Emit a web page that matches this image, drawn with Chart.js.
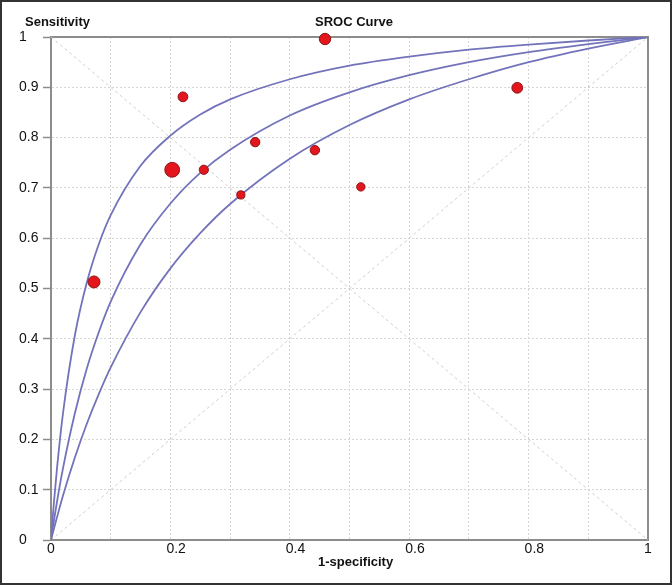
<!DOCTYPE html>
<html lang="en">
<head>
  <meta charset="UTF-8">
  <title>SROC Curve</title>
  <script src="https://cdn.jsdelivr.net/npm/chart.js"></script>
  <style>
    body {
      margin: 0;
      background-color: #fff;
    }
    .chart-container {
      width: 672px;
      height: 585px;
      position: relative;
    }
  </style>
</head>
<body>

  <div class="chart-container">
    <canvas id="srocChart"></canvas>
  </div>

  <script>
    // studies: 1-specificity, sensitivity, bubble radius (study weight)
    const studyFpr  = [0.459, 0.221, 0.781, 0.203, 0.256, 0.342, 0.442, 0.318, 0.519, 0.072];
    const studySens = [0.996, 0.881, 0.899, 0.736, 0.736, 0.791, 0.775, 0.686, 0.702, 0.513];
    const studySize = [5.7, 4.9, 5.4, 7.4, 4.6, 4.7, 4.7, 4.1, 4.2, 6.0];

    // SROC curves
    const curveFpr    = [0, 0.003, 0.005, 0.01, 0.02, 0.04, 0.06, 0.08, 0.1, 0.15, 0.2, 0.25, 0.3, 0.4, 0.5, 0.6, 0.7, 0.8, 0.9, 1];
    const outerSens   = [0, 0.047, 0.076, 0.142, 0.251, 0.407, 0.512, 0.588, 0.646, 0.744, 0.804, 0.846, 0.876, 0.916, 0.943, 0.961, 0.975, 0.985, 0.993, 1];
    const middleSens  = [0, 0.024, 0.039, 0.076, 0.142, 0.252, 0.341, 0.413, 0.474, 0.588, 0.669, 0.730, 0.776, 0.844, 0.890, 0.924, 0.950, 0.970, 0.986, 1];
    const innerSens   = [0, 0.014, 0.023, 0.045, 0.088, 0.164, 0.231, 0.290, 0.343, 0.453, 0.540, 0.610, 0.668, 0.758, 0.825, 0.876, 0.916, 0.950, 0.977, 1];

    // diagonals
    const diagX     = [0, 1];
    const diagUp    = [0, 1];
    const diagDown  = [1, 0];

    const xTickLabels = ['0', '0.2', '0.4', '0.6', '0.8', '1'];
    const yTickLabels = ['0', '0.1', '0.2', '0.3', '0.4', '0.5', '0.6', '0.7', '0.8', '0.9', '1'];

    const FONT = "'Liberation Sans', Arial, sans-serif";
    const curveColor = '#7373bb';

    const toPoints = (xs, ys) => xs.map((x, i) => ({ x: x, y: ys[i] }));

    const curveDataset = (ys) => ({
      type: 'scatter',
      data: toPoints(curveFpr, ys),
      showLine: true,
      borderColor: curveColor,
      borderWidth: 1.8,
      pointRadius: 0,
      cubicInterpolationMode: 'monotone',
      fill: false
    });

    const diagDataset = (ys) => ({
      type: 'scatter',
      data: toPoints(diagX, ys),
      showLine: true,
      borderColor: '#cfcfcf',
      borderWidth: 1,
      borderDash: [3, 3],
      pointRadius: 0,
      fill: false
    });

    // frame (top/right), outer picture border and the free texts
    const framePlugin = {
      id: 'frame',
      beforeDatasetsDraw(chart) {
        const { ctx, chartArea: a } = chart;
        ctx.save();
        ctx.strokeStyle = '#8c8c8c';
        ctx.lineWidth = 2;
        ctx.beginPath();
        ctx.moveTo(a.left, a.top);
        ctx.lineTo(a.right, a.top);
        ctx.lineTo(a.right, a.bottom);
        ctx.stroke();
        ctx.restore();
      },
      afterDraw(chart) {
        const ctx = chart.ctx;
        ctx.save();
        ctx.fillStyle = '#111';
        ctx.font = 'bold 13px ' + FONT;
        ctx.textAlign = 'left';
        ctx.textBaseline = 'alphabetic';
        ctx.fillText('Sensitivity', 25, 26);
        ctx.fillText('SROC Curve', 315, 26);
        ctx.fillText('1-specificity', 318, 566);
        ctx.strokeStyle = '#333';
        ctx.lineWidth = 2;
        ctx.strokeRect(1, 1, chart.width - 2, chart.height - 2);
        ctx.restore();
      }
    };

    const ctxSroc = document.getElementById('srocChart').getContext('2d');
    const srocChart = new Chart(ctxSroc, {
      type: 'scatter',
      data: {
        datasets: [
          {
            type: 'bubble',
            data: studyFpr.map((x, i) => ({ x: x, y: studySens[i], r: studySize[i] })),
            backgroundColor: '#e3161d',
            borderColor: '#8e1414',
            borderWidth: 1,
            clip: false
          },
          curveDataset(outerSens),
          curveDataset(middleSens),
          curveDataset(innerSens),
          diagDataset(diagUp),
          diagDataset(diagDown)
        ]
      },
      options: {
        responsive: true,
        maintainAspectRatio: false,
        animation: false,
        layout: {
          padding: { left: 19, right: 24, top: 37, bottom: 0 }
        },
        plugins: {
          legend: { display: false },
          title: { display: false },
          tooltip: { enabled: false }
        },
        scales: {
          x: {
            type: 'linear',
            min: 0,
            max: 1,
            afterFit: (s) => { s.height = 45; },
            ticks: {
              stepSize: 0.1,
              align: 'start',
              labelOffset: -4,
              padding: 1,
              color: '#111',
              font: { family: FONT, size: 14 },
              callback: (v, i) => (i % 2 === 0 ? xTickLabels[i / 2] : '')
            },
            grid: {
              color: '#d6d6d6',
              drawTicks: false
            },
            border: {
              display: true,
              color: '#8c8c8c',
              width: 2,
              dash: [2, 2]
            }
          },
          y: {
            type: 'linear',
            min: 0,
            max: 1,
            afterFit: (s) => { s.width = 32; },
            ticks: {
              stepSize: 0.1,
              crossAlign: 'far',
              color: '#111',
              font: { family: FONT, size: 14 },
              callback: (v, i) => yTickLabels[i]
            },
            grid: {
              color: '#d6d6d6',
              drawTicks: true,
              tickLength: 8,
              tickColor: '#8c8c8c',
              tickWidth: 1.5,
              tickBorderDash: []
            },
            border: {
              display: true,
              color: '#8c8c8c',
              width: 2,
              dash: [2, 2]
            }
          }
        }
      },
      plugins: [framePlugin]
    });
  </script>

</body>
</html>
